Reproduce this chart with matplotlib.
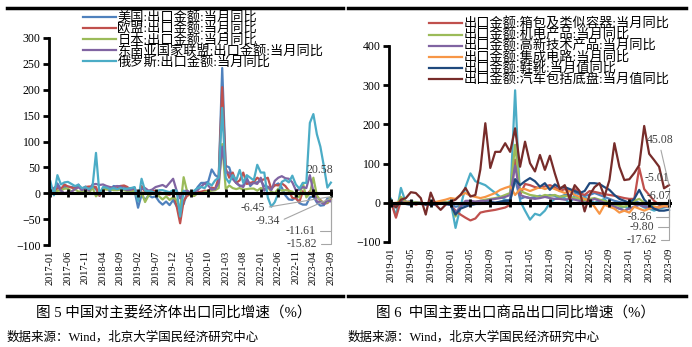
import numpy as np
import pandas as pd
import matplotlib
matplotlib.use('Agg')
import matplotlib.pyplot as plt
from matplotlib.lines import Line2D

plt.rcParams['font.family'] = ['Liberation Serif', 'Noto Sans CJK SC']

# ---- left chart: exports to main economies, 2017-01 .. 2023-09
months_l = list(pd.date_range('2017-01', '2023-09', freq='MS').strftime('%Y-%m'))

us = [6, 4, 19, 8, 12, 13, 12, 11, 17, 5, 13, 8,
      12, 8, -5, 10, 12, 3, 14, 13, 14, 13, 10, 10,
      5, -28, -3, -13, -4, -8, -6, -16, -22, -16, -23, -13,
      -25, -25, -21, 3, 1, 1, 12, 20, 20, 22, 46, 35,
      30, 242, 53, 50, 28, 20, 14, 15, 30, 14, 21, 21,
      24, 14, 12, 10, 15, 19, 11, -4, -12, -13, -7, -19,
      -22, -22, -8, -6, -18, -24, -23, -10, -9.34]
eu = [10, 0, 10, 8, 17, 13, 11, 9, 12, 9, 12, 13,
      13, 12, -5, 8, 11, 8, 10, 9, 14, 15, 12, 1,
      10, -10, 14, 2, 0, 6, 4, 2, 0, -2, -3, 1,
      -25, -58, -15, -5, -2, -5, 2, 3, 5, 4, 11, 9,
      30, 205, 48, 30, 40, 20, 25, 40, 18, 20, 22, 30,
      25, 27, 30, 8, 16, 15, 19, 14, 5, -9, -10, -17,
      4, -3, 4, -4, -7, -13, -20, -19, -11.61]
japan = [2, -2, 5, 5, 9, 9, 3, 8, 3, 4, 4, 0,
         11, -6, 1, 9, 7, 8, 6, 6, 7, 6, 4, 3,
         4, -12, 3, -17, -4, -1, 0, -6, -12, -6, -13, -8,
         -13, -30, 31, 3, -4, -5, 0, -1, 2, 4, 5, 6,
         10, 95, 8, 15, 10, 8, 10, 7, 8, 9, 9, 5,
         10, 8, 12, 3, 0, 9, 5, 6, 5, 3, -5, -8,
         20, -8, 0, 30, -4, -15, -18, -18, -6.45]
asean = [0, 10, 15, 5, 0, 2, 3, 8, 12, 6, 10, 5,
         17, 18, 16, 17, 14, 12, 11, 14, 13, 8, 6, 7,
         11, -5, 8, 10, 5, 7, 12, 14, 16, 12, 20, 28,
         5, -10, 4, 5, 1, 3, 6, 13, 19, 15, 7, 8,
         20, 90, 40, 40, 28, 20, 15, 12, 26, 17, 20, 18,
         30, 5, 13, 6, 24, 30, 33, 29, 28, 21, 6, 7,
         12, 10, 35, 4, -16, -17, -21, -14, -15.82]
russia = [23, -4, 35, 17, 21, 22, 18, 14, 16, 10, 12, 8,
          12, 78, -2, 12, 11, 8, 10, 8, 10, 8, 9, 10,
          12, -15, 28, 5, 4, 3, 0, 6, 6, 4, 2, 6,
          5, -45, 5, -2, 2, 5, 10, 12, 10, 20, 15, 25,
          30, 165, 30, 20, 35, 25, 45, 20, 35, 30, 25, 55,
          40, 40, -8, -26, -17, 0, 22, 26, 21, 34, 17, 9,
          20, 20, 136, 153, 114, 90, 52, 11, 20.58]

names_l = ['美国:出口金额:当月同比', '欧盟:出口金额:当月同比', '日本:出口金额:当月同比',
           '东南亚国家联盟:出口金额:当月同比', '俄罗斯:出口金额:当月同比']
colors_l = ['#4F81BD', '#C0504D', '#9BBB59', '#8064A2', '#4BACC6']

# ---- right chart: main export goods, 2019-01 .. 2023-09
months_r = list(pd.date_range('2019-01', '2023-09', freq='MS').strftime('%Y-%m'))

bags = [2, -38, 5, 3, 2, -5, 0, -3, 2, -2, 1, 0,
        -5, -20, -30, -38, -45, -40, -25, -22, -20, -18, -15, -12,
        -5, 110, 20, 48, 45, 40, 38, 42, 45, 40, 30, 35,
        30, 35, 25, 20, 30, 28, 25, 22, 20, 18, 15, 12,
        10, 10, 89, 35, 20, 5, -5, -8, -5.01]
mech = [5, -10, 15, 2, 0, 2, 0, -2, -2, 0, 2, 2,
        0, -35, -5, 2, 0, 2, 5, 8, 10, 12, 15, 20,
        25, 148, 30, 25, 20, 18, 15, 20, 18, 20, 15, 18,
        15, 12, 10, 5, 10, 12, 8, 5, 0, -5, -8, -10,
        -5, 5, 10, 0, -5, -10, -12, -8, -6.07]
hitech = [2, -5, 5, 0, -2, 0, 0, -3, -5, -3, 0, 0,
          -5, -25, -10, 5, 5, 3, 5, 5, 8, 10, 12, 15,
          20, 95, 20, 15, 12, 10, 12, 15, 12, 10, 10, 8,
          10, 8, 5, 0, 5, 10, 5, 0, -5, -10, -15, -20,
          -15, -10, -5, -10, -12, -15, -12, -10, -8.26]
chips = [-2, 0, 2, 0, -2, -3, -2, -3, 0, 2, 5, 8,
         12, 10, 20, 25, 18, 15, 12, 15, 20, 25, 33, 38,
         42, 20, 35, 35, 30, 35, 40, 35, 40, 35, 30, 25,
         30, 20, 15, 10, 5, -10, -28, -5, -10, -15, -25, -20,
         -25, -10, -15, -20, -15, -10, -12, -8, -9.80]
shoes = [-5, -10, 2, -3, -5, -2, -3, -5, -5, -3, -2, -3,
         -5, -30, -15, -10, -5, -3, -2, 0, 2, 0, 3, 5,
         5, 60, 45, 55, 63, 55, 41, 50, 33, 47, 38, 40,
         35, 30, 25, 30, 50, 50, 48, 40, 33, 20, 10, 5,
         0, 10, 33, 8, -5, -15, -20, -20, -17.62]
autos = [2, -12, 8, 12, 27, 25, 12, -30, 26, -5, -18, -5,
         3, 8, 20, 38, 16, 20, 85, 203, 89, 130, 130, 152,
         130, 190, 92, 156, 101, 80, 122, 84, 120, 75, 35, 45,
         10, 45, 30, -22, 20, 40, 50, 16, 58, 152, 92, 58,
         60, 76, 96, 196, 125, 109, 92, 37, 45.08]
textile = [10, -35, 38, 0, 5, 0, 0, -3, 0, -5, 0, 0,
           5, -64, -10, 40, 75, 55, 50, 45, 35, 25, 15, 8,
           5, 287, 5, -20, -43, -28, -32, -20, 0, 10, 15, 12,
           -3, 20, 10, 15, 5, 0, 5, 10, -5, -10, -15, -10,
           -15, -10, -5, -12, -15, -20, -15, -12, -10]
other = [0, -5, 3, 0, -2, 0, -2, -3, -3, -5, -2, -3,
         -5, -10, -8, -5, -5, -3, -3, -2, 0, 0, 2, 5,
         8, 60, 10, 15, 12, 15, 18, 15, 20, 18, 15, 20,
         20, 25, 22, 18, 20, 25, 20, 15, 10, 5, 2, 0,
         -5, 5, 0, -5, -10, -12, -10, -8, -5]

names_r = ['出口金额:箱包及类似容器:当月同比', '出口金额:机电产品:当月同比',
           '出口金额:高新技术产品:当月同比', '出口金额:集成电路:当月同比',
           '出口金额:鞋靴:当月值同比', '出口金额:汽车包括底盘:当月值同比']
colors_r = ['#C0504D', '#9BBB59', '#8064A2', '#F79646', '#1F497D', '#772C2A']

W, H = 692, 347
fig = plt.figure(figsize=(W / 100, H / 100), dpi=100)


def frac(x0, y0, x1, y1):
    # pixel box (top-left origin) -> figure fraction rect
    return [x0 / W, 1 - y1 / H, (x1 - x0) / W, (y1 - y0) / H]


def style_axes(ax, n, step, ylim, yticks, labels):
    ax.set_xlim(-0.4, n - 0.4)
    ax.set_ylim(*ylim)
    ax.set_yticks(yticks)
    for s in ['top', 'right', 'bottom']:
        ax.spines[s].set_visible(False)
    ax.spines['left'].set_linewidth(2)
    ax.tick_params(axis='y', direction='out', length=4, width=2, labelsize=8.5, pad=2)
    pos = list(range(0, n, step))
    ax.set_xticks(pos)
    ax.set_xticklabels([labels[p] for p in pos], rotation=90, fontsize=7.5)
    ax.tick_params(axis='x', length=0, pad=4)
    ax.axhline(0, color='black', lw=2.2, zorder=5)
    ax.plot(pos, [0] * len(pos), ls='none', marker='|', ms=6, mew=2, color='black', zorder=6)
    ax.patch.set_alpha(0)


def leader(ax, text, x, y, dx, dy, style=None, rel=(0.5, 0.5)):
    kw = dict(xy=(x, y), xytext=(dx, dy), textcoords='offset pixels',
              ha='center', va='center', fontsize=8.5, color='#404040', zorder=7)
    if style is not None:
        kw['arrowprops'] = dict(arrowstyle='-', color='#A6A6A6', lw=0.8,
                                shrinkA=1, shrinkB=0, connectionstyle=style, relpos=rel)
    ax.annotate(text, **kw)


# left
ax1 = fig.add_axes(frac(49, 38, 333, 245))
xl = np.arange(len(months_l))
for vals, name, c in zip([us, eu, japan, asean, russia], names_l, colors_l):
    ax1.plot(xl, vals, color=c, lw=1.6, label=name)
style_axes(ax1, len(months_l), 5, (-100, 300), range(-100, 301, 50), months_l)
last = len(months_l) - 1
leader(ax1, '20.58', last, russia[-1], -11, 13)
leader(ax1, '-6.45', last, japan[-1], -78, -11, 'arc3', (1, 0.5))
leader(ax1, '-9.34', last, us[-1], -63, -23, 'arc3', (1, 0.5))
leader(ax1, '-11.61', last, eu[-1], -30, -32, 'angle,angleA=0,angleB=90,rad=0', (1, 0.5))
leader(ax1, '-15.82', last, asean[-1], -29, -43, 'angle,angleA=0,angleB=90,rad=0', (1, 0.5))
ax1.legend(loc='upper left', bbox_to_anchor=(83 / W, 1 - 11 / H), bbox_transform=fig.transFigure,
           frameon=False, fontsize=9.5, handlelength=2.5, handletextpad=0.1,
           labelspacing=-0.15, borderpad=0, borderaxespad=0)

# right
ax2 = fig.add_axes(frac(389, 46, 672, 242))
xr = np.arange(len(months_r))
ax2.plot(xr, textile, color='#4BACC6', lw=1.6)
ax2.plot(xr, other, color='#4F81BD', lw=1.6)
for vals, name, c in zip([bags, mech, hitech, chips, shoes, autos], names_r, colors_r):
    ax2.plot(xr, vals, color=c, lw=1.6, label=name)
handles, labs = ax2.get_legend_handles_labels()
style_axes(ax2, len(months_r), 4, (-100, 400), range(-100, 401, 100), months_r)
last = len(months_r) - 1
leader(ax2, '45.08', last, autos[-1], -9, 45, 'arc3', (0.5, 0))
leader(ax2, '-5.01', last, bags[-1], -12, 27, 'angle,angleA=0,angleB=90,rad=0', (1, 0.5))
leader(ax2, '-6.07', last, mech[-1], -10, 9, 'arc3', (1, 0.5))
leader(ax2, '-8.26', last, hitech[-1], -29, -11, 'angle,angleA=0,angleB=90,rad=0', (1, 0.5))
leader(ax2, '-9.80', last, chips[-1], -27, -20, 'angle,angleA=0,angleB=90,rad=0', (1, 0.5))
leader(ax2, '-17.62', last, shoes[-1], -27, -30, 'angle,angleA=0,angleB=90,rad=0', (1, 0.5))
ax2.legend(handles, labs, loc='upper left', bbox_to_anchor=(429 / W, 1 - 18 / H),
           bbox_transform=fig.transFigure, frameon=False, fontsize=9.5, handlelength=2.5,
           handletextpad=0.1, labelspacing=-0.15, borderpad=0, borderaxespad=0)

# rules, captions, sources
for x0, x1 in [(7, 343), (348, 686)]:
    for yy in (8, 296):
        fig.add_artist(Line2D([x0 / W, x1 / W], [1 - yy / H] * 2, color='black', lw=2.5))
fig.text(174 / W, 1 - 313 / H, '图 5 中国对主要经济体出口同比增速（%）', ha='center', va='center', fontsize=10.5)
fig.text(516 / W, 1 - 313 / H, '图 6  中国主要出口商品出口同比增速（%）', ha='center', va='center', fontsize=10.5)
fig.text(7 / W, 1 - 337 / H, '数据来源：Wind，北京大学国民经济研究中心', ha='left', va='center', fontsize=9)
fig.text(348 / W, 1 - 337 / H, '数据来源：Wind，北京大学国民经济研究中心', ha='left', va='center', fontsize=9)

fig.savefig('out.png', dpi=100)
